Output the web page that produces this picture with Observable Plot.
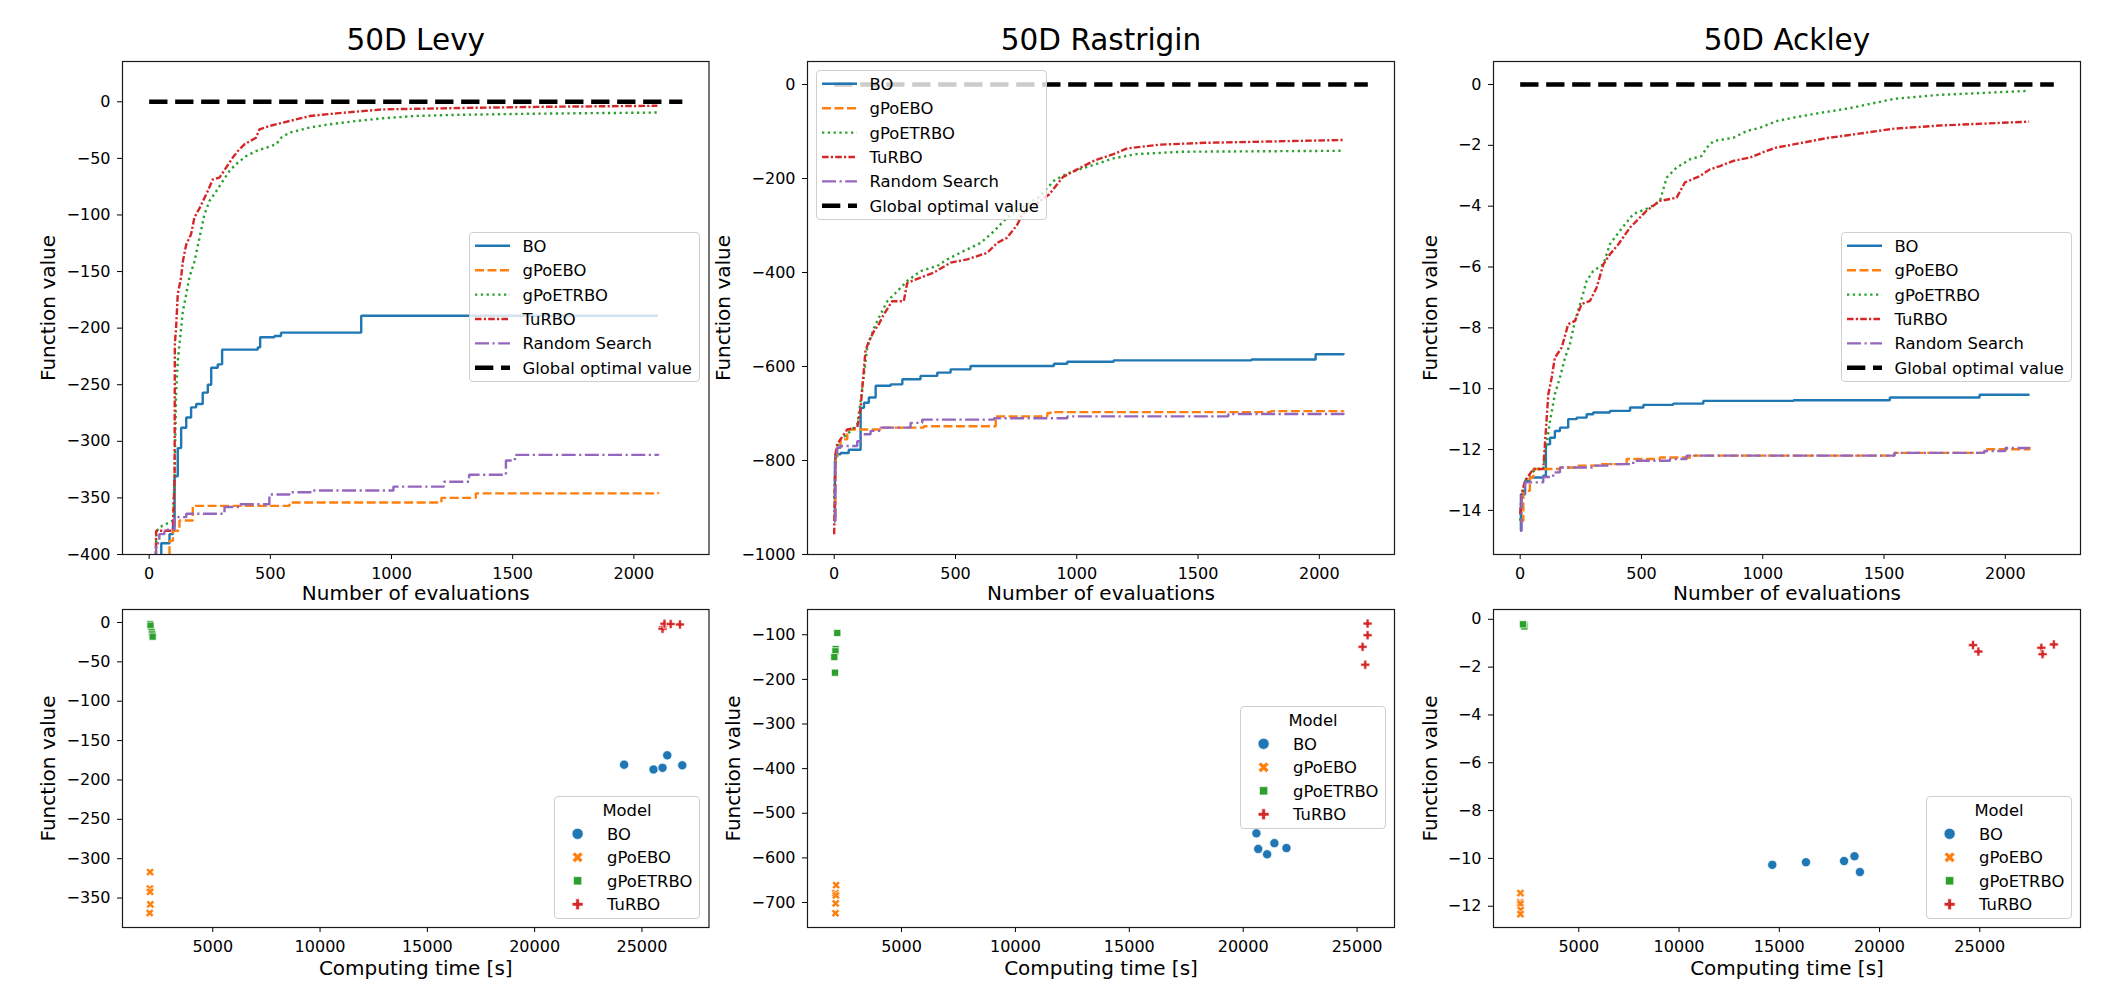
<!DOCTYPE html>
<html><head><meta charset="utf-8">
<script src="https://cdn.jsdelivr.net/npm/d3@7"></script>
<script src="https://cdn.jsdelivr.net/npm/@observablehq/plot@0.6"></script>
<style>
body{margin:0;background:#fff;font-family:"DejaVu Sans",sans-serif;}
#root{position:relative;width:2104px;height:993px;overflow:hidden;background:#fff}
.legend{position:absolute;background:rgba(255,255,255,0.8);border:1px solid #cfcfcf;border-radius:4px;box-sizing:border-box}
.legend svg{position:absolute;left:-1px;top:-1px;overflow:visible}
</style></head>
<body><div id="root"></div>
<script>
// ---------- DATA ----------
const models = ["BO", "gPoEBO", "gPoETRBO", "TuRBO", "Random Search"];
const titles = ["50D Levy", "50D Rastrigin", "50D Ackley"];
const globalX = [0, 2200];
const globalOpt = 0;

// Levy convergence [evaluations, best value]
const levyBO = [[0,-460],[50,-390],[84,-382],[98,-375],[105,-331],[118,-306],[132,-288],[153,-279],[173,-270],[194,-267],[221,-257],[242,-250],[256,-235],[283,-232],[301,-219],[448,-217],[458,-208],[517,-207],[544,-204],[868,-204],[875,-189],[2100,-189]];
const levyGPoEBO = [[0,-460],[84,-388],[98,-379],[125,-370],[173,-370],[180,-357],[579,-354],[1206,-350],[1348,-346],[2100,-345]];
const levyGPoETRBO = [[25,-420],[30,-380],[42,-376],[98,-370],[105,-332],[111,-258],[118,-229],[132,-200],[139,-185],[153,-170],[166,-155],[187,-141],[208,-120],[228,-99.5],[249,-87.6],[277,-79],[304,-70],[332,-61],[359,-55],[400,-48],[441,-43.5],[524,-37.6],[545,-31.7],[579,-27.3],[662,-22.8],[744,-19.9],[854,-17],[964,-14.6],[1100,-12.5],[1282,-11.5],[1600,-10.5],[2097,-9.5]];
const levyTuRBO = [[25,-430],[29,-379],[98,-379],[105,-330],[106,-214],[111,-200],[118,-170],[132,-155],[139,-141],[153,-126],[173,-117],[187,-102],[208,-94],[235,-82],[263,-68.5],[290,-67],[318,-58],[345,-49.3],[366,-43.5],[393,-37.6],[441,-31.7],[455,-24.3],[496,-21.4],[579,-17],[662,-12.6],[772,-10.2],[964,-6.7],[1282,-5.5],[1600,-4.5],[2097,-3.5]];
const levyRandom = [[0,-460],[29,-390],[42,-382],[63,-378],[105,-367],[153,-364],[311,-358],[373,-355.6],[496,-347],[579,-345],[676,-343.5],[1008,-340],[1216,-335.7],[1320,-329.6],[1472,-317],[1509,-312],[2100,-311]];

// Rastrigin convergence
const rasBO = [[0,-930],[3,-800],[5,-787],[26,-784],[60,-777],[109,-688],[123,-677],[143,-666],[171,-641],[233,-638],[281,-627],[356,-620],[425,-613],[480,-606],[562,-599],[906,-594],[961,-590],[1152,-587],[1720,-585],[1985,-574],[2100,-572]];
const rasGPoEBO = [[0,-920],[5,-800],[12,-773],[26,-755],[54,-734],[191,-730],[370,-727],[666,-706],[879,-699],[893,-697],[1800,-695],[2100,-694]];
const rasGPoETRBO = [[0,-880],[5,-815],[12,-773],[26,-755],[54,-744],[95,-723],[109,-674],[123,-617],[136,-560],[164,-518],[191,-489],[219,-461],[260,-440],[301,-418],[356,-397],[425,-386],[466,-372],[535,-354],[604,-337],[659,-312],[713,-283],[773,-262],[848,-238],[905,-205],[962,-189],[1057,-173],[1152,-157],[1246,-148],[1436,-143],[2098,-141]];
const rasTuRBO = [[0,-957],[5,-787],[12,-766],[26,-755],[54,-734],[95,-730],[109,-688],[116,-645],[129,-567],[143,-546],[164,-525],[184,-510],[205,-489],[239,-461],[287,-461],[301,-422],[356,-411],[411,-400],[480,-379],[549,-372],[631,-358],[672,-337],[713,-326],[755,-298],[775,-277],[811,-262],[886,-234],[943,-197],[1000,-181],[1076,-161],[1152,-148],[1208,-136],[1341,-128],[1530,-124],[2098,-118]];
const rasRandom = [[0,-928],[5,-787],[12,-773],[26,-769],[95,-759],[109,-744],[150,-737],[191,-730],[315,-720],[363,-713],[659,-710],[961,-706],[1625,-701],[2100,-699]];

// Ackley convergence
const ackBO = [[0,-14.67],[3,-13.47],[20,-13.03],[40,-12.92],[95,-12.86],[106,-11.83],[123,-11.61],[143,-11.39],[164,-11.28],[198,-11.0],[233,-10.95],[274,-10.84],[301,-10.78],[370,-10.73],[453,-10.62],[508,-10.53],[631,-10.49],[755,-10.40],[1127,-10.38],[1524,-10.29],[1894,-10.2],[2100,-10.2]];
const ackGPoEBO = [[0,-14.34],[13,-13.36],[40,-12.92],[54,-12.64],[164,-12.59],[233,-12.53],[329,-12.48],[439,-12.31],[576,-12.26],[714,-12.2],[1543,-12.11],[1913,-11.99],[2100,-11.92]];
const ackGPoETRBO = [[0,-14.34],[6,-13.5],[20,-13.03],[40,-12.81],[68,-12.64],[95,-12.64],[109,-11.83],[123,-11.06],[143,-10.18],[164,-9.63],[185,-8.98],[205,-8.54],[226,-7.77],[247,-7.22],[274,-6.46],[301,-6.13],[343,-5.91],[370,-5.25],[411,-4.81],[466,-4.26],[535,-4.04],[576,-3.83],[604,-3.06],[645,-2.73],[700,-2.46],[748,-2.35],[769,-2.08],[797,-1.86],[879,-1.75],[934,-1.53],[989,-1.42],[1058,-1.2],[1127,-1.09],[1209,-0.97],[1357,-0.78],[1543,-0.47],[1728,-0.34],[2098,-0.21]];
const ackTuRBO = [[0,-14.12],[6,-13.47],[20,-13.03],[54,-12.64],[95,-12.64],[102,-11.83],[116,-10.18],[130,-9.63],[143,-8.98],[171,-8.65],[198,-7.88],[226,-7.77],[253,-7.22],[288,-7.11],[315,-6.68],[343,-5.91],[370,-5.58],[405,-5.25],[453,-4.70],[494,-4.37],[521,-4.15],[576,-3.83],[645,-3.72],[679,-3.22],[741,-3.01],[782,-2.79],[824,-2.68],[879,-2.51],[948,-2.40],[1016,-2.18],[1058,-2.07],[1127,-1.97],[1265,-1.76],[1357,-1.66],[1543,-1.45],[1728,-1.35],[2098,-1.22]];
const ackRandom = [[0,-14.67],[6,-13.47],[20,-13.08],[95,-12.9],[136,-12.75],[164,-12.59],[301,-12.53],[370,-12.48],[466,-12.37],[617,-12.31],[686,-12.2],[1543,-12.11],[1913,-12.05],[2000,-11.95],[2100,-11.95]];

// Final value vs computing time [seconds, value]
const levyTimeBO = [[24170,-180.6],[25540,-186.7],[25960,-184.6],[26180,-168.7],[26880,-181.4]];
const levyTimeGPoEBO = [[2080,-317],[2070,-338],[2080,-342],[2090,-358],[2060,-369]];
const levyTimeGPoETRBO = [[2080,-2],[2100,-4],[2150,-12],[2180,-15],[2200,-18]];
const levyTimeTuRBO = [[25980,-6],[25960,-8],[26050,-1.5],[26340,-2],[26770,-2.5]];

const rasTimeBO = [[20580,-545],[20660,-580],[21050,-592],[21370,-567],[21900,-578]];
const rasTimeGPoEBO = [[2130,-661],[2100,-679],[2120,-684],[2110,-702],[2100,-724]];
const rasTimeGPoETRBO = [[2180,-96],[2110,-132],[2100,-137],[2050,-150],[2080,-185]];
const rasTimeTuRBO = [[25460,-75],[25460,-101],[25240,-127],[25360,-167]];

const ackTimeBO = [[14650,-10.27],[16330,-10.16],[18230,-10.11],[18750,-9.91],[19020,-10.57]];
const ackTimeGPoEBO = [[2090,-11.45],[2080,-11.83],[2090,-11.9],[2100,-12.16],[2090,-12.33]];
const ackTimeGPoETRBO = [[2200,-0.2],[2250,-0.22],[2300,-0.25],[2280,-0.3],[2220,-0.21]];
const ackTimeTuRBO = [[24660,-1.08],[24930,-1.35],[28070,-1.19],[28130,-1.46],[28690,-1.05]];

// ticks
const evalTicks = [0, 500, 1000, 1500, 2000];
const timeTicks = [5000, 10000, 15000, 20000, 25000];
const levyTicks = [0, -50, -100, -150, -200, -250, -300, -350, -400];
const rasTicks = [0, -200, -400, -600, -800, -1000];
const ackTicks = [0, -2, -4, -6, -8, -10, -12, -14];
const levyTimeTicks = [0, -50, -100, -150, -200, -250, -300, -350];
const rasTimeTicks = [-100, -200, -300, -400, -500, -600, -700];
const ackTimeTicks = [0, -2, -4, -6, -8, -10, -12];

// ---------- STYLE ----------
const C = {BO:"#1f77b4", gPoEBO:"#ff7f0e", gPoETRBO:"#2ca02c", TuRBO:"#d62728", Random:"#9467bd"};
const LW = 2.4;
const lineStyle = [
  {color:C.BO, dash:null, curve:"step-after"},
  {color:C.gPoEBO, dash:"9,3.5", curve:"step-after"},
  {color:C.gPoETRBO, dash:"2.3,3.5", curve:"linear"},
  {color:C.TuRBO, dash:"6.6,2.2,2.2,2.2", curve:"linear"},
  {color:C.Random, dash:"14,3.5,2.2,3.5", curve:"step-after"}
];
const globalStyle = {color:"#000", width:4.6, dash:"18.3,7.7"};
const fmt = d3.format("d");
const font = "DejaVu Sans";

const symX = {draw(ctx, size){ const r = Math.sqrt(size/5)/2, c = Math.SQRT1_2;
  const p = [[-3*r,-r],[-r,-r],[-r,-3*r],[r,-3*r],[r,-r],[3*r,-r],[3*r,r],[r,r],[r,3*r],[-r,3*r],[-r,r],[-3*r,r]];
  p.forEach(([x,y],i)=>{const X=(x-y)*c, Y=(x+y)*c; i?ctx.lineTo(X,Y):ctx.moveTo(X,Y);}); ctx.closePath();}};
const dotStyle = [
  {color:C.BO, symbol:"circle", r:4.6, lr:5.6},
  {color:C.gPoEBO, symbol:symX, r:3.7, lr:4.8},
  {color:C.gPoETRBO, symbol:"square", r:4.0, lr:4.7},
  {color:C.TuRBO, symbol:"cross", r:3.8, lr:4.6}
];

const root = document.getElementById("root");

function panel(o){
  const ml = 110, mr = 12, mb = 60, mt = o.mt;
  const marks = [...o.marks,
    Plot.axisX({ticks:o.xTicks, tickFormat:fmt, tickSize:5, tickPadding:8, label:null, fontSize:16}),
    Plot.axisY({ticks:o.yTicks, tickFormat:fmt, tickSize:5, tickPadding:7, label:null, fontSize:16}),
    Plot.frame({stroke:"#1a1a1a", strokeWidth:1.2}),
    Plot.text([o.xlabel], {text:d=>d, frameAnchor:"bottom", lineAnchor:"middle", textAnchor:"middle", dy:o.xlabelDy, fontSize:20}),
    Plot.text(["Function value"], {text:d=>d, frameAnchor:"left", lineAnchor:"middle", textAnchor:"middle", dx:-o.ylabelDx, rotate:-90, fontSize:20})
  ];
  if (o.title) marks.push(Plot.text([o.title], {text:d=>d, frameAnchor:"top", lineAnchor:"middle", textAnchor:"middle", dy:-20.5, fontSize:29.5}));
  const chart = Plot.plot({
    width: ml + o.w + mr, height: mt + o.h + mb,
    marginLeft: ml, marginRight: mr, marginTop: mt, marginBottom: mb,
    x: {domain:o.xDomain}, y: {domain:o.yDomain},
    style: {background:"transparent", fontFamily:font, fontSize:"16px", color:"#000", overflow:"visible"},
    marks
  });
  chart.style.position = "absolute";
  chart.style.left = (o.left - ml) + "px";
  chart.style.top = (o.top - mt) + "px";
  chart.style.maxWidth = "none";
  root.appendChild(chart);
}

function convMarks(series){
  const m = series.map((s,i)=>Plot.line(s, {x:d=>d[0], y:d=>d[1], stroke:lineStyle[i].color, strokeWidth:LW,
    strokeDasharray:lineStyle[i].dash, strokeLinecap:"butt", strokeLinejoin:"miter", curve:lineStyle[i].curve, clip:true}));
  m.push(Plot.line(globalX.map(x=>[x, globalOpt]), {x:d=>d[0], y:d=>d[1], stroke:globalStyle.color, strokeWidth:globalStyle.width,
    strokeDasharray:globalStyle.dash, strokeLinecap:"butt"}));
  return m;
}
function timeMarks(series){
  return series.map((s,i)=>Plot.dot(s, {x:d=>d[0], y:d=>d[1], symbol:dotStyle[i].symbol, r:dotStyle[i].r,
    fill:dotStyle[i].color, stroke:"white", strokeWidth:0.7}));
}

const cols = [{left:122, w:586.5}, {left:807, w:587}, {left:1493, w:587}];
const topRow = {top:61, h:493};
const botRow = {top:609, h:318};

const conv = [
  {series:[levyBO, levyGPoEBO, levyGPoETRBO, levyTuRBO, levyRandom], yDomain:[-400,35.6], yTicks:levyTicks, ylabelDx:74},
  {series:[rasBO, rasGPoEBO, rasGPoETRBO, rasTuRBO, rasRandom], yDomain:[-1000,49], yTicks:rasTicks, ylabelDx:83.5},
  {series:[ackBO, ackGPoEBO, ackGPoETRBO, ackTuRBO, ackRandom], yDomain:[-15.45,0.756], yTicks:ackTicks, ylabelDx:63}
];
const times = [
  {series:[levyTimeBO, levyTimeGPoEBO, levyTimeGPoETRBO, levyTimeTuRBO], xDomain:[794,28125], yDomain:[-387.4,16.5], yTicks:levyTimeTicks, ylabelDx:74},
  {series:[rasTimeBO, rasTimeGPoEBO, rasTimeGPoETRBO, rasTimeTuRBO], xDomain:[873,26642], yDomain:[-756,-43.4], yTicks:rasTimeTicks, ylabelDx:74},
  {series:[ackTimeBO, ackTimeGPoEBO, ackTimeGPoETRBO, ackTimeTuRBO], xDomain:[746,30022], yDomain:[-12.89,0.41], yTicks:ackTimeTicks, ylabelDx:63}
];

conv.forEach((p,i)=>panel({left:cols[i].left, w:cols[i].w, top:topRow.top, h:topRow.h, mt:61,
  xDomain:[-110,2310], yDomain:p.yDomain, xTicks:evalTicks, yTicks:p.yTicks, marks:convMarks(p.series),
  xlabel:"Number of evaluations", xlabelDy:39, ylabelDx:p.ylabelDx, title:titles[i]}));
times.forEach((p,i)=>panel({left:cols[i].left, w:cols[i].w, top:botRow.top, h:botRow.h, mt:10,
  xDomain:p.xDomain, yDomain:p.yDomain, xTicks:timeTicks, yTicks:p.yTicks, marks:timeMarks(p.series),
  xlabel:"Computing time [s]", xlabelDy:41, ylabelDx:p.ylabelDx}));

// ---------- LEGENDS ----------
const NS = "http://www.w3.org/2000/svg";
function el(tag, attrs, parent){ const e = document.createElementNS(NS, tag); for (const k in attrs) e.setAttribute(k, attrs[k]); parent.appendChild(e); return e; }
function box(left, top, w, h){
  const d = document.createElement("div"); d.className = "legend";
  Object.assign(d.style, {left:left+"px", top:top+"px", width:w+"px", height:h+"px"});
  root.appendChild(d);
  return el("svg", {width:w, height:h, "font-family":font, "font-size":16.4}, d);
}
function lineLegend(left, top){
  const svg = box(left, top, 231, 150);
  const labels = [...models, "Global optimal value"];
  labels.forEach((lab,i)=>{
    const y = 13.8 + 24.4*i;
    const st = i < 5 ? {stroke:lineStyle[i].color, "stroke-width":LW, dash:lineStyle[i].dash}
                     : {stroke:globalStyle.color, "stroke-width":globalStyle.width, dash:globalStyle.dash};
    const a = {x1:6, x2:41, y1:y, y2:y, stroke:st.stroke, "stroke-width":st["stroke-width"], "stroke-linecap":"butt"};
    if (st.dash) a["stroke-dasharray"] = st.dash;
    el("line", a, svg);
    const t = el("text", {x:53.5, y:y, dy:"0.36em", fill:"#000"}, svg); t.textContent = lab;
  });
}
function dotLegend(left, top){
  const svg = box(left, top, 146, 123);
  const t0 = el("text", {x:73, y:14.5, dy:"0.36em", "text-anchor":"middle", fill:"#000"}, svg); t0.textContent = "Model";
  models.slice(0,4).forEach((lab,i)=>{
    const y = 37.8 + 23.5*i, s = dotStyle[i];
    const type = s.symbol === "circle" ? d3.symbolCircle : s.symbol === "square" ? d3.symbolSquare : s.symbol === "cross" ? d3.symbolCross : s.symbol;
    el("path", {d:d3.symbol(type, Math.PI*s.lr*s.lr)(), transform:`translate(23.6,${y})`, fill:s.color, stroke:"white", "stroke-width":0.7}, svg);
    const t = el("text", {x:53, y:y, dy:"0.36em", fill:"#000"}, svg); t.textContent = lab;
  });
}
lineLegend(469, 232);
lineLegend(816, 70);
lineLegend(1841, 232);
dotLegend(554, 796);
dotLegend(1240, 706);
dotLegend(1926, 796);
</script></body></html>
